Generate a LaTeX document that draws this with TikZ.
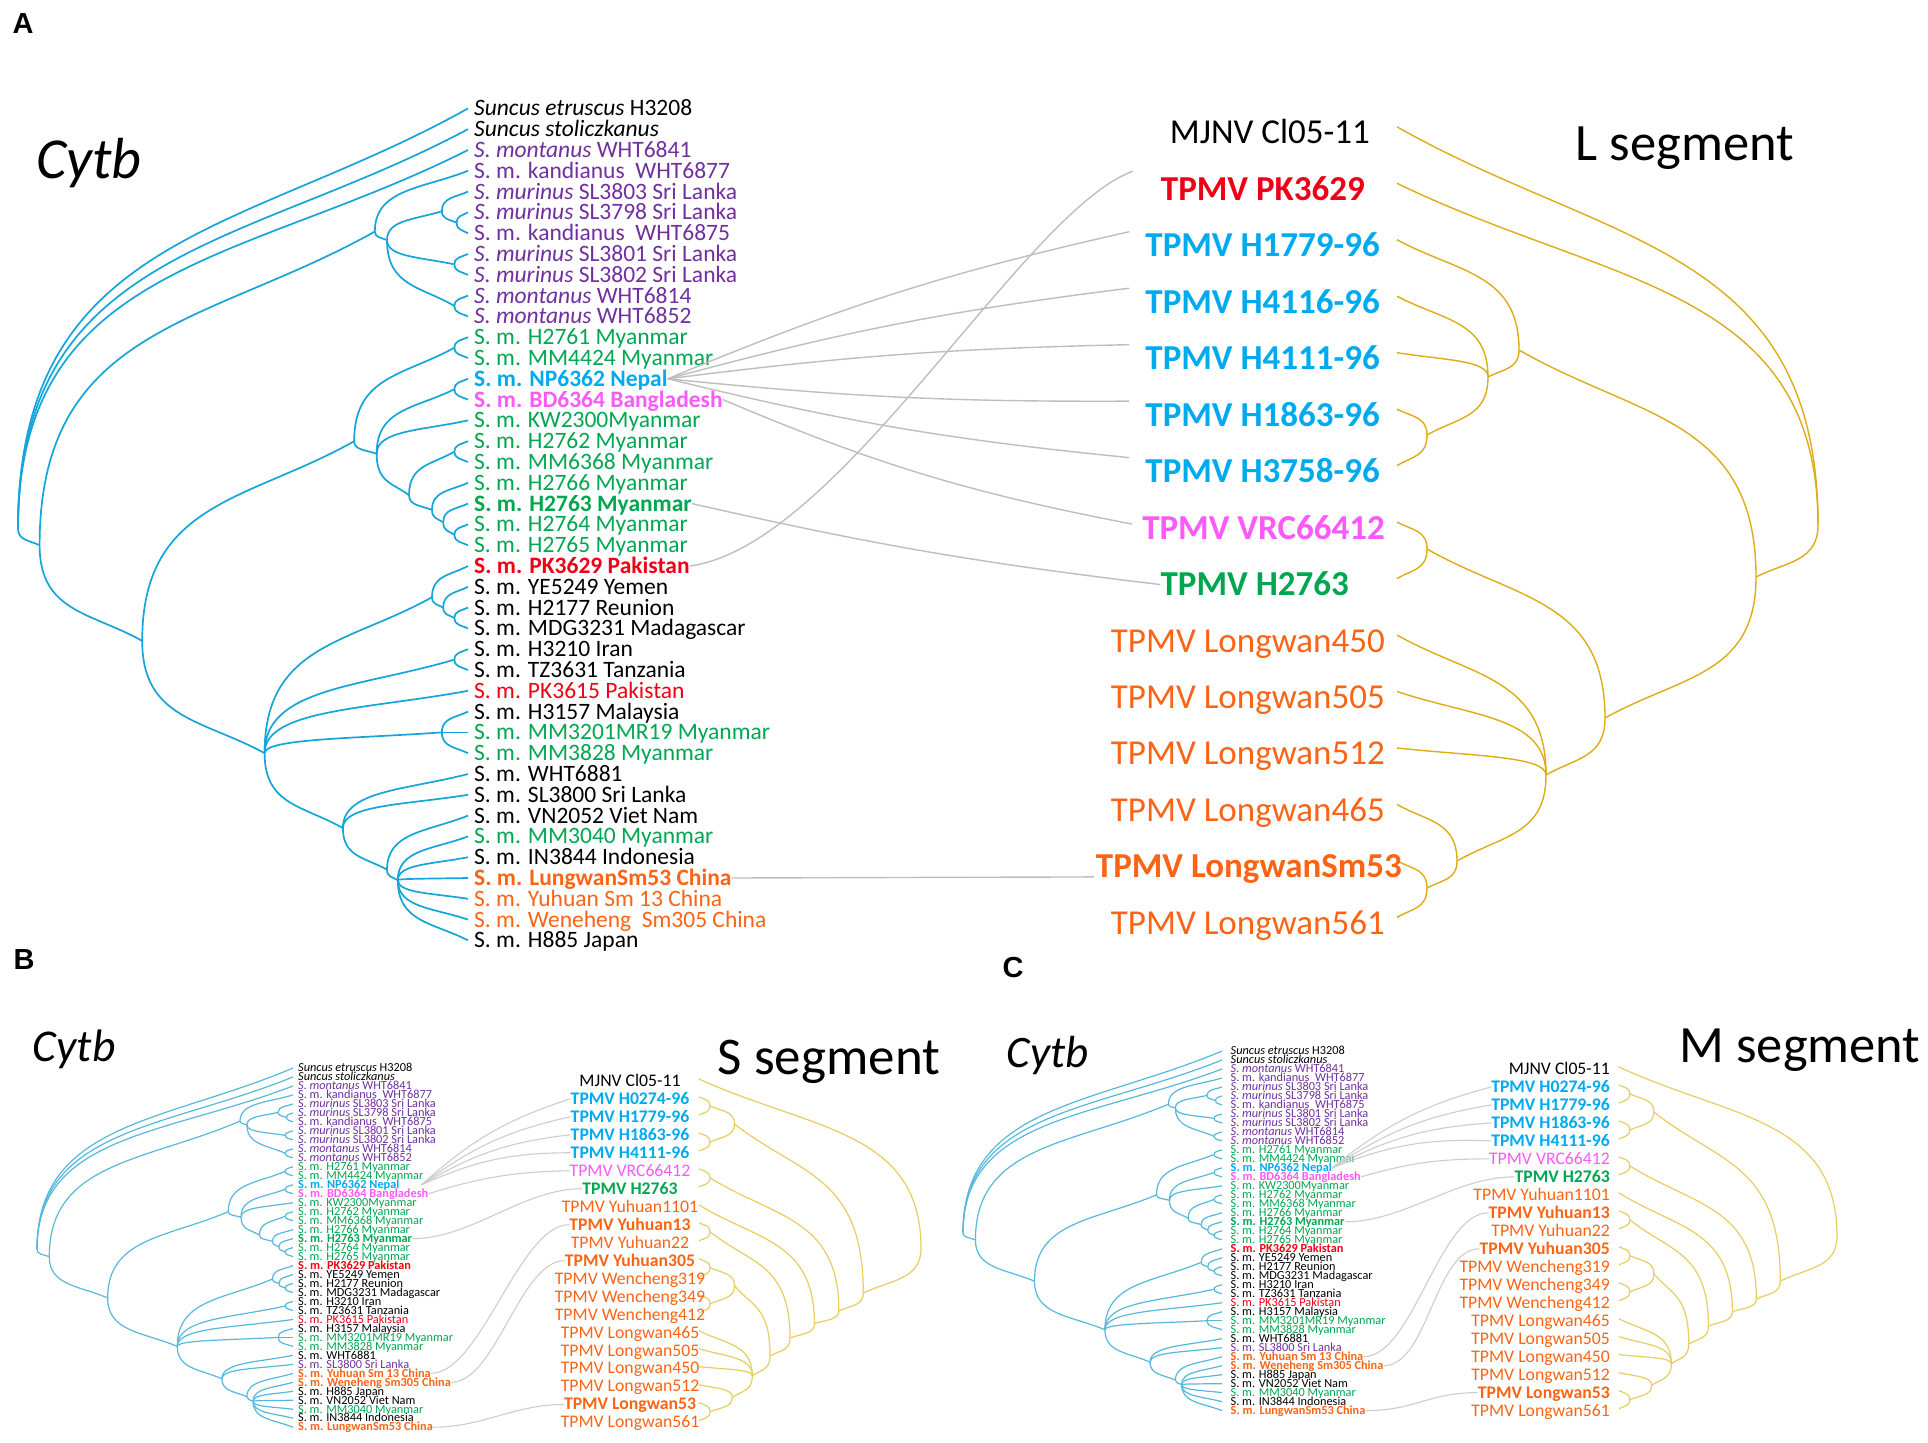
\documentclass[tikz,border=0pt]{standalone}
\usepackage{fontspec}
\setmainfont{Carlito}
\newfontfamily\panfont{Liberation Sans}
\usetikzlibrary{calc}

\definecolor{cblk}{RGB}{0,0,0}
\definecolor{cpur}{RGB}{112,48,160}
\definecolor{cgrn}{RGB}{0,166,80}
\definecolor{cblu}{RGB}{0,170,240}
\definecolor{cmag}{RGB}{250,90,250}
\definecolor{cred}{RGB}{240,0,20}
\definecolor{cora}{RGB}{250,100,20}
\definecolor{treeblue}{RGB}{20,165,218}
\definecolor{treebluel}{RGB}{85,185,220}
\definecolor{treegold}{RGB}{222,172,20}
\definecolor{treegoldl}{RGB}{232,205,95}
\definecolor{linkgray}{RGB}{190,190,190}
\definecolor{linkgrayl}{RGB}{205,205,205}

\tikzset{
  hbrA/.style={draw=treeblue, line width=1.7pt},
  hbrB/.style={draw=treebluel, line width=1.2pt},
  hbrC/.style={hbrB},
  vbrA/.style={draw=treegold, line width=1.4pt},
  vbrB/.style={draw=treegoldl, line width=1.2pt},
  vbrC/.style={vbrB},
  link/.style={draw=linkgray, line width=1.4pt},
  linkl/.style={draw=linkgrayl, line width=1.1pt},
  hlabA/.style={anchor=west, inner sep=0pt, xshift=6pt, font=\fontsize{23.5}{26}\selectfont, text height=18pt, text depth=3pt},
  hlabB/.style={anchor=west, inner sep=0pt, xshift=5pt, font=\fontsize{12.3}{13}\selectfont, text height=9pt, text depth=1.5pt},
  hlabC/.style={hlabB, xshift=3.5pt},
  slabA/.style={anchor=east, inner sep=0pt, font=\fontsize{35}{38}\selectfont, text height=26pt, text depth=4pt},
  slabB/.style={anchor=center, inner sep=0pt, font=\fontsize{17.7}{19}\selectfont, text height=13pt, text depth=2pt},
  slabC/.style={slabB, anchor=east},
  title/.style={anchor=base, inner sep=0pt},
  panlet/.style={anchor=base, inner sep=0pt, font=\panfont\bfseries\fontsize{29}{30}\selectfont},
}

% curved branch: leaves the parent vertically, sweeps to the child
\newcommand\brc[3]{\draw[#1] let \p1=(#2), \p2=(#3) in
  (\p1) .. controls (\x1,{\y1+0.7*((\y2)-(\y1))}) and ({\x1+0.5*((\x2)-(\x1))},{\y1+0.7*((\y2)-(\y1))}) .. (\p2);}

% host (Cytb) tree: prefix, root x, width, first leaf y, leaf step
\newcommand\hosttree[5]{%
  \foreach \nm/\ux/\ky in {R/0/21.2, n1/0.048/22.0, mo/0.793/6.92, m2/0.82/7.33, na/0.942/5.94,
      nb/0.975/6.5, nc/0.97/8.5, nd/0.97/10.5, n2/0.276/26.6, n3/0.747/17.0, ne/0.97/12.5,
      n5/0.797/17.6, nf/0.97/14.5, n6/0.869/19.6, ng/0.97/17.5, n7/0.92/20.3, n8/0.945/20.9,
      n9/0.97/21.5, n4/0.548/32.0, nj/0.92/24.5, nk/0.945/25.0, nl/0.97/25.5, nm/0.97/27.5,
      no/0.942/31.0, np/0.722/35.6, nq/0.82/37.6, nr/0.844/38.1}
    {\coordinate (#1-\nm) at ({#2+#3*\ux},{#4+#5*(\ky-1)});}
  \foreach \i in {1,...,41}
    {\coordinate (#1-h\i) at ({#2+#3},{#4+#5*(\i-1)});}
  \foreach \pa/\ch in {R/h1, R/h2, R/h3, R/n1, n1/mo, n1/n2, mo/h4, mo/m2, m2/na, m2/nc, m2/nd,
      na/h5, na/nb, nb/h6, nb/h7, nc/h8, nc/h9, nd/h10, nd/h11, n2/n3, n2/n4, n3/ne, n3/n5,
      ne/h12, ne/h13, n5/nf, n5/h16, n5/n6, nf/h14, nf/h15, n6/ng, n6/n7, ng/h17, ng/h18,
      n7/h19, n7/n8, n8/h20, n8/n9, n9/h21, n9/h22, n4/nj, n4/nm, n4/h29, n4/no, n4/np,
      nj/h23, nj/nk, nk/h24, nk/nl, nl/h25, nl/h26, nm/h27, nm/h28, no/h30, no/h31, no/h32,
      np/h33, np/h34, np/nq, nq/h35, nq/nr, nr/h36, nr/h37, nr/h38, nr/h39, nr/h40, nr/h41}
    {\brc{hbr#1}{#1-\pa}{#1-\ch}}
}

% S / M segment tree: prefix, leaf x, width, first leaf y, leaf step
\newcommand\segtree[5]{%
  \foreach \nm/\ux/\ky in {wr/1.0/10.4, a1/0.74/12.9, a2/0.63/13.9, a3/0.52/14.6, a4/0.41/15.4,
      a5/0.32/16.4, bl/0.16/3.5, p1/0.05/2.5, p2/0.05/4.5, p3/0.05/6.5, p4/0.05/9.5,
      wg/0.16/12.5, p5/0.05/11.5, p6/0.05/13.5, lg/0.24/17.5, q/0.15/18.7, p7/0.05/19.5}
    {\coordinate (#1-\nm) at ({#2+#3*\ux},{#4+#5*(\ky-1)});}
  \foreach \i in {1,...,20}
    {\coordinate (#1-g\i) at (#2,{#4+#5*(\i-1)});}
  \foreach \pa/\ch in {wr/g1, wr/a1, a1/bl, a1/a2, a2/p3, a2/a3, a3/g8, a3/a4, a4/p4, a4/a5,
      a5/wg, a5/lg, bl/p1, bl/p2, p1/g2, p1/g3, p2/g4, p2/g5, p3/g6, p3/g7, p4/g9, p4/g10,
      wg/p5, wg/p6, p5/g11, p5/g12, p6/g13, p6/g14, lg/g15, lg/g16, lg/g17, lg/q,
      q/g18, q/p7, p7/g19, p7/g20}
    {\brc{vbr#1}{#1-\pa}{#1-\ch}}
}

\newcommand\hostsTop{1/{{\itshape Suncus etruscus} H3208}/cblk, 2/{{\itshape Suncus stoliczkanus}}/cblk,
  3/{{\itshape S. montanus} WHT6841}/cpur, 4/{S. m. kandianus~ WHT6877}/cpur,
  5/{{\itshape S. murinus} SL3803 Sri Lanka}/cpur, 6/{{\itshape S. murinus} SL3798 Sri Lanka}/cpur,
  7/{S. m. kandianus~ WHT6875}/cpur, 8/{{\itshape S. murinus} SL3801 Sri Lanka}/cpur,
  9/{{\itshape S. murinus} SL3802 Sri Lanka}/cpur, 10/{{\itshape S. montanus} WHT6814}/cpur,
  11/{{\itshape S. montanus} WHT6852}/cpur, 12/{S. m. H2761 Myanmar}/cgrn,
  13/{S. m. MM4424 Myanmar}/cgrn, 14/{\bfseries S. m. NP6362 Nepal}/cblu,
  15/{\bfseries S. m. BD6364 Bangladesh}/cmag, 16/{S. m. KW2300Myanmar}/cgrn,
  17/{S. m. H2762 Myanmar}/cgrn, 18/{S. m. MM6368 Myanmar}/cgrn, 19/{S. m. H2766 Myanmar}/cgrn,
  20/{\bfseries S. m. H2763 Myanmar}/cgrn, 21/{S. m. H2764 Myanmar}/cgrn,
  22/{S. m. H2765 Myanmar}/cgrn, 23/{\bfseries S. m. PK3629 Pakistan}/cred,
  24/{S. m. YE5249 Yemen}/cblk, 25/{S. m. H2177 Reunion}/cblk, 26/{S. m. MDG3231 Madagascar}/cblk,
  27/{S. m. H3210 Iran}/cblk, 28/{S. m. TZ3631 Tanzania}/cblk, 29/{S. m. PK3615 Pakistan}/cred,
  30/{S. m. H3157 Malaysia}/cblk, 31/{S. m. MM3201MR19 Myanmar}/cgrn,
  32/{S. m. MM3828 Myanmar}/cgrn, 33/{S. m. WHT6881}/cblk}
\newcommand\hostsTailA{34/{S. m. SL3800 Sri Lanka}/cblk, 35/{S. m. VN2052 Viet Nam}/cblk,
  36/{S. m. MM3040 Myanmar}/cgrn, 37/{S. m. IN3844 Indonesia}/cblk,
  38/{\bfseries S. m. LungwanSm53 China}/cora, 39/{S. m. Yuhuan Sm 13 China}/cora,
  40/{S. m. Weneheng~ Sm305 China}/cora, 41/{S. m. H885 Japan}/cblk}
\newcommand\hostsTailBC{34/{S. m. SL3800 Sri Lanka}/cpur, 35/{\bfseries S. m. Yuhuan Sm 13 China}/cora,
  36/{\bfseries S. m. Weneheng Sm305 China}/cora, 37/{S. m. H885 Japan}/cblk,
  38/{S. m. VN2052 Viet Nam}/cblk, 39/{S. m. MM3040 Myanmar}/cgrn,
  40/{S. m. IN3844 Indonesia}/cblk, 41/{\bfseries S. m. LungwanSm53 China}/cora}
\newcommand\strainsBC{1/{MJNV Cl05-11}/cblk, 2/{\bfseries TPMV H0274-96}/cblu,
  3/{\bfseries TPMV H1779-96}/cblu, 4/{\bfseries TPMV H1863-96}/cblu, 5/{\bfseries TPMV H4111-96}/cblu,
  6/{TPMV VRC66412}/cmag, 7/{\bfseries TPMV H2763}/cgrn, 8/{TPMV Yuhuan1101}/cora,
  9/{\bfseries TPMV Yuhuan13}/cora, 10/{TPMV Yuhuan22}/cora, 11/{\bfseries TPMV Yuhuan305}/cora,
  12/{TPMV Wencheng319}/cora, 13/{TPMV Wencheng349}/cora, 14/{TPMV Wencheng412}/cora,
  15/{TPMV Longwan465}/cora, 16/{TPMV Longwan505}/cora, 17/{TPMV Longwan450}/cora,
  18/{TPMV Longwan512}/cora, 19/{\bfseries TPMV Longwan53}/cora, 20/{TPMV Longwan561}/cora}

\begin{document}
\begin{tikzpicture}[x=1pt, y=-1pt]
  \fill[white] (0,0) rectangle (1928,1443);
  \useasboundingbox (0,0) rectangle (1928,1443);

  % panel letters and titles
  \node[panlet] (labA) at (23,33) {A};
  \node[panlet] (labB) at (24,969) {B};
  \node[panlet] (labC) at (1013,977) {C};
  \node[title, font=\fontsize{58}{60}\selectfont\itshape] (A-cytb) at (89,178) {Cytb};
  \node[title, font=\fontsize{52.5}{55}\selectfont] (A-seg) at (1685,160) {L segment};
  \node[title, font=\fontsize{45.5}{48}\selectfont\itshape] (B-cytb) at (74,1061) {Cytb};
  \node[title, font=\fontsize{53}{55}\selectfont] (B-seg) at (829,1074) {S segment};
  \node[title, font=\fontsize{45}{48}\selectfont\itshape] (C-cytb) at (1048,1067) {Cytb};
  \node[title, font=\fontsize{52.4}{55}\selectfont] (C-seg) at (1800,1062) {M segment};

  % A: Cytb tree vs L segment
  \hosttree{A}{18}{450}{108.4}{20.8}
  \foreach \i/\lab/\col in \hostsTop {\node[hlabA, text=\col] (A-t\i) at (A-h\i) {\lab};}
  \foreach \i/\lab/\col in \hostsTailA {\node[hlabA, text=\col] (A-t\i) at (A-h\i) {\lab};}

  \foreach \i in {1,...,15} {\coordinate (A-g\i) at (1397,{126.8+56.47*(\i-1)});}
  \foreach \nm/\xx/\yy in {wr/1818/525, w1/1756/577, w2/1519/350, w4/1488/377, w5/1427/435,
      w3/1605/718, w6/1427/549, w7/1546/775, w8/1457/861, w9/1427/888}
    {\coordinate (A-\nm) at (\xx,\yy);}
  \foreach \pa/\ch in {wr/g1, wr/g2, wr/w1, w1/w2, w1/w3, w2/g3, w2/w4, w4/g4, w4/g5, w4/w5,
      w5/g6, w5/g7, w3/w6, w3/w7, w6/g8, w6/g9, w7/g10, w7/g11, w7/g12, w7/w8, w8/g13,
      w8/w9, w9/g14, w9/g15}
    {\brc{vbrA}{A-\pa}{A-\ch}}
  \foreach \i/\xe/\lab/\col in {1/1370/{MJNV Cl05-11}/cblk, 2/1365/{\bfseries TPMV PK3629}/cred,
      3/1380/{\bfseries TPMV H1779-96}/cblu, 4/1380/{\bfseries TPMV H4116-96}/cblu,
      5/1380/{\bfseries TPMV H4111-96}/cblu, 6/1380/{\bfseries TPMV H1863-96}/cblu,
      7/1380/{\bfseries TPMV H3758-96}/cblu, 8/1385/{\bfseries TPMV VRC66412}/cmag,
      9/1349/{\bfseries TPMV H2763}/cgrn, 10/1385/{TPMV Longwan450}/cora,
      11/1385/{TPMV Longwan505}/cora, 12/1385/{TPMV Longwan512}/cora,
      13/1385/{TPMV Longwan465}/cora, 14/1402/{\bfseries TPMV LongwanSm53}/cora,
      15/1385/{TPMV Longwan561}/cora}
    {\node[slabA, text=\col] (A-s\i) at (\xe,{132.8+56.47*(\i-1)}) {\lab};}

  % A: host-virus links
  \foreach \j/\bd in {3/5, 4/4, 5/3, 6/-3, 7/-4}
    {\draw[link] (A-t14.east) to[bend left=\bd] ($(A-s\j.west)+(-16,-14)$);}
  \draw[link] (A-t15.east) to[bend right=6] ($(A-s8.west)+(-10,-4)$);
  \draw[link] (A-t20.east) to[bend right=3] (A-s9.west);
  \draw[link] (A-t23.east) .. controls +(150,-20) and +(-110,40) .. ($(A-s2.west)+(-28,-18)$);
  \draw[link] (A-t38.east) -- ($(A-s14.west)+(-2,10)$);

  % B: Cytb tree vs S segment
  \hosttree{B}{37}{256}{1068}{8.98}
  \foreach \i/\lab/\col in \hostsTop {\node[hlabB, text=\col] (B-t\i) at (B-h\i) {\lab};}
  \foreach \i/\lab/\col in \hostsTailBC {\node[hlabB, text=\col] (B-t\i) at (B-h\i) {\lab};}
  \segtree{B}{699}{222}{1079}{17.98}
  \foreach \i/\lab/\col in \strainsBC
    {\node[slabB, text=\col] (B-s\i) at (630,{1080.8+17.98*(\i-1)}) {\lab};}

  \foreach \j in {2,...,5}
    {\draw[linkl] ($(B-t14.east)+(22,0)$) to[bend left=12] (B-s\j.west);}
  \draw[linkl] (B-t15.east) to[bend left=8] (B-s6.west);
  \draw[linkl] (B-t20.east) .. controls +(60,0) and +(-60,0) .. (B-s7.west);
  \draw[linkl] (B-t35.east) .. controls +(50,0) and +(-50,0) .. (B-s9.west);
  \draw[linkl] (B-t36.east) .. controls +(45,0) and +(-45,0) .. (B-s11.west);
  \draw[linkl] (B-t41.east) .. controls +(50,0) and +(-50,0) .. (B-s19.west);

  % C: Cytb tree vs M segment
  \hosttree{C}{963}{259}{1051}{8.99}
  \foreach \i/\lab/\col in \hostsTop {\node[hlabC, text=\col] (C-t\i) at (C-h\i) {\lab};}
  \foreach \i/\lab/\col in \hostsTailBC {\node[hlabC, text=\col] (C-t\i) at (C-h\i) {\lab};}
  \segtree{C}{1619}{218}{1067}{17.98}
  \foreach \i/\lab/\col in \strainsBC
    {\node[slabC, text=\col] (C-s\i) at (1610,{1069+17.98*(\i-1)}) {\lab};}

  \foreach \j in {2,...,5}
    {\draw[linkl] (C-t14.east) to[bend left=12] (C-s\j.west);}
  \draw[linkl] (C-t15.east) to[bend left=8] (C-s6.west);
  \draw[linkl] (C-t20.east) .. controls +(60,0) and +(-60,0) .. (C-s7.west);
  \draw[linkl] (C-t35.east) .. controls +(50,0) and +(-50,0) .. (C-s9.west);
  \draw[linkl] (C-t36.east) .. controls +(45,0) and +(-45,0) .. (C-s11.west);
  \draw[linkl] (C-t41.east) .. controls +(50,0) and +(-50,0) .. (C-s19.west);
\end{tikzpicture}
\end{document}
